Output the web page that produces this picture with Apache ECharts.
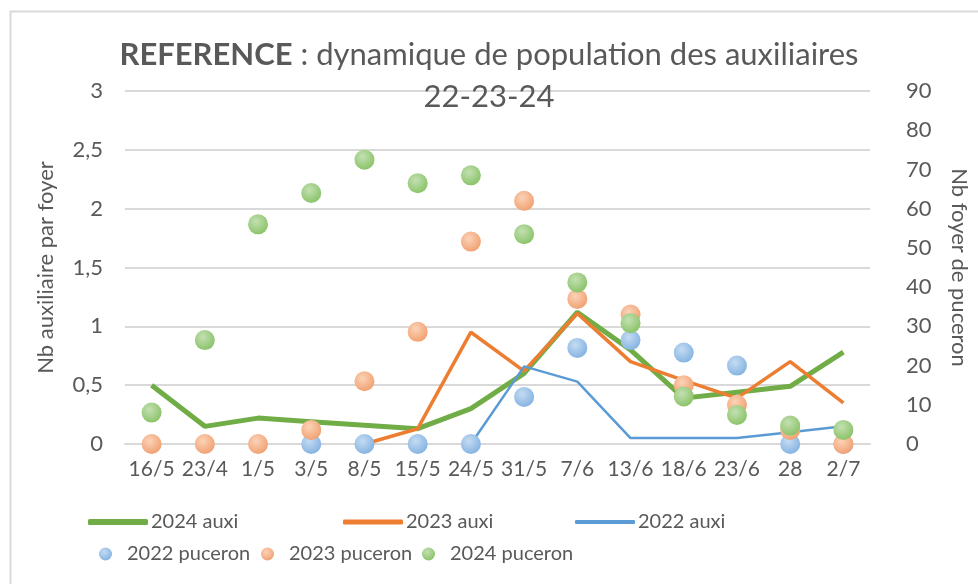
<!DOCTYPE html>
<html>
<head>
<meta charset="utf-8">
<script src="https://cdn.jsdelivr.net/npm/echarts@6/dist/echarts.min.js"></script>
<style>
  html, body { margin: 0; padding: 0; background: #fff; }
  #chart { width: 978px; height: 584px; }
</style>
</head>
<body>
<div id="chart"></div>
<script>
// dates de relevé
const categories = ["16/5", "23/4", "1/5", "3/5", "8/5", "15/5", "24/5", "31/5", "7/6", "13/6", "18/6", "23/6", "28", "2/7"];

// auxiliaires (axe gauche)
const auxi2024 = [0.5, 0.15, 0.22, 0.19, 0.16, 0.13, 0.30, 0.60, 1.12, 0.80, 0.39, 0.44, 0.49, 0.78];
const auxi2023 = [null, null, null, null, 0, 0.13, 0.95, 0.62, 1.11, 0.70, 0.54, 0.39, 0.70, 0.35];
const auxi2022 = [null, null, null, null, null, null, 0, 0.66, 0.53, 0.05, 0.05, 0.05, 0.10, 0.15];

// pucerons (axe droit)
const puceron2022 = [null, null, null, 0, 0, 0, 0, 12, 24.5, 26.5, 23.3, 20, 0, 0];
const puceron2023 = [0, 0, 0, 3.6, 16, 28.6, 51.6, 62, 37, 33, 15, 10, 3.6, 0];
const puceron2024 = [8, 26.5, 56, 64, 72.5, 66.5, 68.5, 53.5, 41.2, 30.8, 12.1, 7.4, 4.7, 3.6];

const leftTicks = [0, 0.5, 1, 1.5, 2, 2.5, 3];
const rightTicks = [0, 10, 20, 30, 40, 50, 60, 70, 80, 90];

const txt = "#595959";
const font = "Lato";

function dot(inner, outer) {
  return {
    type: "radial", x: 0.4, y: 0.35, r: 0.65,
    colorStops: [{ offset: 0, color: inner }, { offset: 1, color: outer }]
  };
}

const chart = echarts.init(document.getElementById("chart"));

// une légende par entrée pour caler les positions
function leg(name, left, top, icon, w, h, gap) {
  return {
    data: [name], left: left, top: top, icon: icon,
    itemWidth: w, itemHeight: h, itemGap: 0, padding: 0,
    selectedMode: false,
    textStyle: { color: txt, fontFamily: font, fontSize: 20, padding: [0, 0, 0, gap] }
  };
}

const option = {
  backgroundColor: "#fff",
  animation: false,
  graphic: [{
    type: "rect", left: 8, top: 9,
    shape: { width: 990, height: 600 },
    style: { fill: "none", stroke: "#d9d9d9", lineWidth: 2 }
  }],
  title: {
    text: "{b|REFERENCE} : dynamique de population des auxiliaires\n22-23-24",
    left: "center", top: 29,
    textStyle: {
      color: txt, fontFamily: font, fontSize: 31, fontWeight: "normal", lineHeight: 42,
      rich: { b: { fontWeight: "bold", fontSize: 31, fontFamily: font, color: txt } }
    }
  },
  legend: [
    leg("2024 auxi", 88, 512, "roundRect", 60, 6, -2),
    leg("2023 auxi", 343, 512, "roundRect", 60, 5, -2),
    leg("2022 auxi", 575, 512, "roundRect", 60, 4, -2),
    leg("2022 puceron", 99, 544, "circle", 13, 13, 10),
    leg("2023 puceron", 261, 544, "circle", 13, 13, 10),
    leg("2024 puceron", 422, 544, "circle", 13, 13, 10)
  ],
  grid: { left: 125, right: 98, top: 91, bottom: 140 },
  xAxis: {
    type: "category",
    data: categories,
    boundaryGap: true,
    axisLine: { lineStyle: { color: "#d9d9d9", width: 2 } },
    axisTick: { show: false },
    axisLabel: { color: txt, fontFamily: font, fontSize: 21, margin: 15, interval: 0 }
  },
  yAxis: [{
    type: "value", min: 0, max: 3, interval: 0.5,
    name: "Nb auxiliaire par foyer",
    nameLocation: "middle", nameGap: 68, nameRotate: 90,
    nameTextStyle: { color: txt, fontFamily: font, fontSize: 22 },
    axisLine: { show: false }, axisTick: { show: false },
    axisLabel: {
      color: txt, fontFamily: font, fontSize: 22, margin: 22,
      formatter: v => leftTicks.includes(v) ? String(v).replace(".", ",") : ""
    },
    splitLine: { lineStyle: { color: "#d9d9d9", width: 2 } }
  }, {
    type: "value", min: 0, max: 90, interval: 10,
    name: "Nb foyer de puceron",
    nameLocation: "middle", nameGap: 78, nameRotate: -90,
    nameTextStyle: { color: txt, fontFamily: font, fontSize: 22 },
    axisLine: { show: false }, axisTick: { show: false },
    axisLabel: {
      color: txt, fontFamily: font, fontSize: 22, margin: 36,
      formatter: v => rightTicks.includes(v) ? String(v) : ""
    },
    splitLine: { show: false }
  }],
  series: [
    {
      name: "2024 auxi", type: "line", data: auxi2024, symbol: "none", z: 2,
      lineStyle: { color: "#70ad47", width: 5 }, itemStyle: { color: "#70ad47" }
    },
    {
      name: "2023 auxi", type: "line", data: auxi2023, symbol: "none", z: 3,
      lineStyle: { color: "#ed7d31", width: 3.5 }, itemStyle: { color: "#ed7d31" }
    },
    {
      name: "2022 auxi", type: "line", data: auxi2022, symbol: "none", z: 4,
      lineStyle: { color: "#5b9bd5", width: 2.5 }, itemStyle: { color: "#5b9bd5" }
    },
    {
      name: "2022 puceron", type: "scatter", yAxisIndex: 1, data: puceron2022,
      symbolSize: 20, z: 5,
      itemStyle: { color: dot("#c5dcf2", "#86b4e2"), opacity: 1 }
    },
    {
      name: "2023 puceron", type: "scatter", yAxisIndex: 1, data: puceron2023,
      symbolSize: 20, z: 6,
      itemStyle: { color: dot("#fbd3b8", "#f1a273"), opacity: 1 }
    },
    {
      name: "2024 puceron", type: "scatter", yAxisIndex: 1, data: puceron2024,
      symbolSize: 20, z: 7,
      itemStyle: { color: dot("#c4e0b2", "#8cc46b"), opacity: 1 }
    }
  ]
};

chart.setOption(option);
</script>
</body>
</html>
